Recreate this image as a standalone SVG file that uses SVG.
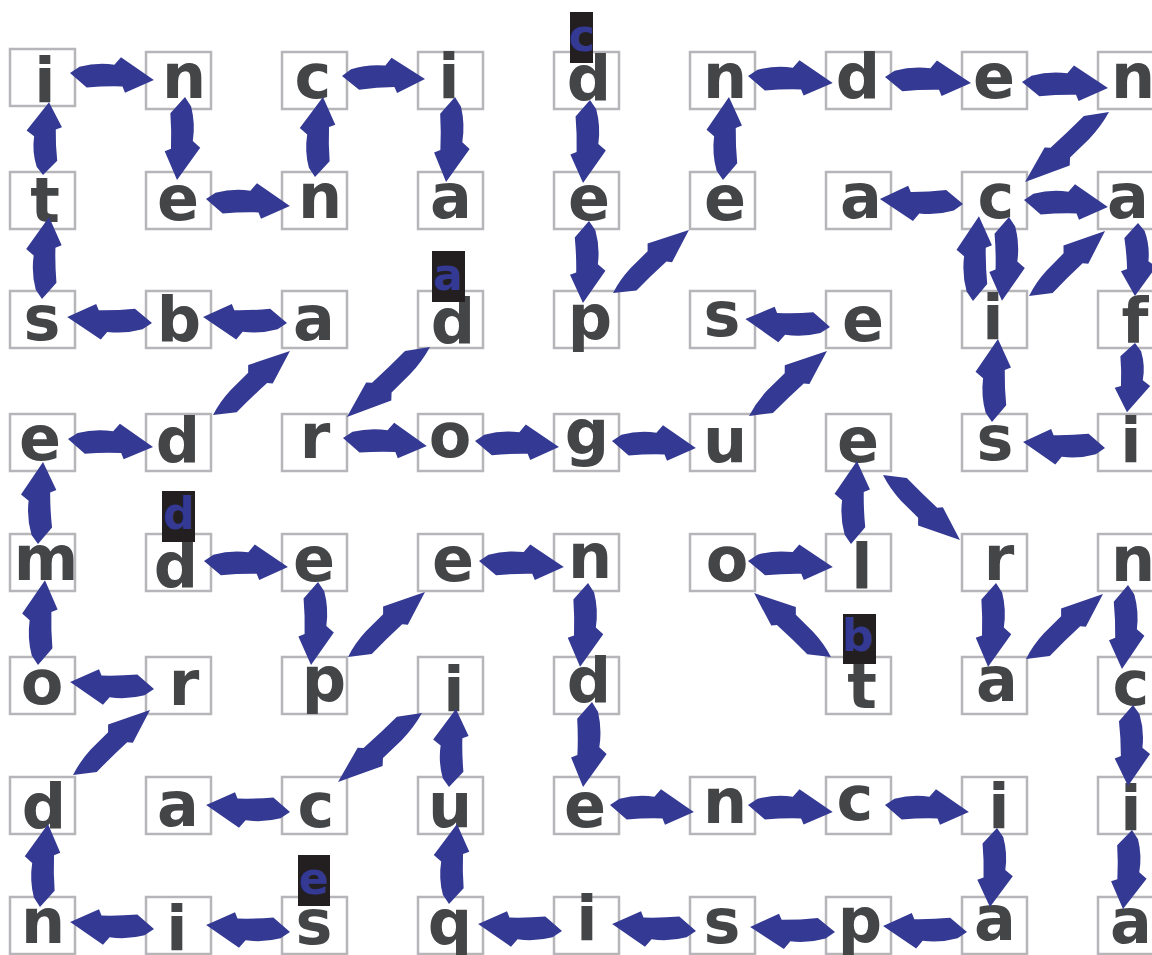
<svg xmlns="http://www.w3.org/2000/svg" xmlns:xlink="http://www.w3.org/1999/xlink" width="1152" height="955" viewBox="0 0 1152 955">
<style>
.box{fill:#fff;stroke:#b6b6ba;stroke-width:2.5}
.l{font-family:"DejaVu Sans","Liberation Sans",sans-serif;font-weight:700;font-size:62px;fill:#444547;text-anchor:middle}
.hl{fill:#231f20}
.hlt{font-family:"DejaVu Sans","Liberation Sans",sans-serif;font-weight:700;font-size:44px;fill:#343994;text-anchor:middle}
.arr use{fill:#343994}
</style>
<defs>
<path id="ah" d="M0,0 L9,-7 Q26,-13 44,-12 L50,-20 L85,0 L57,15 L54,9 Q36,10 18,13 Z"/>
<path id="ad" d="M0,0 Q14,-6 30,-8 L54,-10 L59,-16 L100,0 L66,14 L62,10 Q40,11 20,13 Z"/>
</defs>
<rect width="1152" height="955" fill="#fff"/>
<!-- row 1 -->
<g id="r1c1"><rect class="box" x="10" y="49" width="65" height="57"/><text class="l" x="45" y="102">i</text></g>
<g id="r1c2"><rect class="box" x="146" y="52" width="65" height="57"/><text class="l" x="184" y="98">n</text></g>
<g id="r1c3"><rect class="box" x="282" y="52" width="65" height="57"/><text class="l" x="313" y="98">c</text></g>
<g id="r1c4"><rect class="box" x="418" y="52" width="65" height="57"/><text class="l" x="449" y="98">i</text></g>
<g id="r1c5"><rect class="box" x="554" y="52" width="65" height="57"/><text class="l" x="589" y="100">d</text><rect class="hl" x="570" y="12" width="23" height="51"/><text class="hlt" x="582" y="51" font-size="38">c</text></g>
<g id="r1c6"><rect class="box" x="690" y="52" width="65" height="57"/><text class="l" x="725" y="98">n</text></g>
<g id="r1c7"><rect class="box" x="826" y="52" width="65" height="57"/><text class="l" x="858" y="98">d</text></g>
<g id="r1c8"><rect class="box" x="962" y="52" width="65" height="57"/><text class="l" x="994" y="98">e</text></g>
<g id="r1c9"><rect class="box" x="1098" y="52" width="65" height="57"/><text class="l" x="1133" y="98">n</text></g>
<!-- row 2 -->
<g id="r2c1"><rect class="box" x="10" y="172" width="65" height="57"/><text class="l" x="45" y="222">t</text></g>
<g id="r2c2"><rect class="box" x="146" y="172" width="65" height="57"/><text class="l" x="178" y="220">e</text></g>
<g id="r2c3"><rect class="box" x="282" y="172" width="65" height="57"/><text class="l" x="320" y="218">n</text></g>
<g id="r2c4"><rect class="box" x="418" y="172" width="65" height="57"/><text class="l" x="451" y="218">a</text></g>
<g id="r2c5"><rect class="box" x="554" y="172" width="65" height="57"/><text class="l" x="589" y="220">e</text></g>
<g id="r2c6"><rect class="box" x="690" y="172" width="65" height="57"/><text class="l" x="725" y="220">e</text></g>
<g id="r2c7"><rect class="box" x="826" y="172" width="65" height="57"/><text class="l" x="861" y="218">a</text></g>
<g id="r2c8"><rect class="box" x="962" y="172" width="65" height="57"/><text class="l" x="996" y="218">c</text></g>
<g id="r2c9"><rect class="box" x="1098" y="172" width="65" height="57"/><text class="l" x="1128" y="218">a</text></g>
<!-- row 3 -->
<g id="r3c1"><rect class="box" x="10" y="291" width="65" height="57"/><text class="l" x="42" y="340">s</text></g>
<g id="r3c2"><rect class="box" x="146" y="291" width="65" height="57"/><text class="l" x="179" y="341">b</text></g>
<g id="r3c3"><rect class="box" x="282" y="291" width="65" height="57"/><text class="l" x="314" y="340">a</text></g>
<g id="r3c4"><rect class="box" x="418" y="291" width="65" height="57"/><text class="l" x="453" y="343">d</text><rect class="hl" x="432" y="251" width="33" height="51"/><text class="hlt" x="448" y="290">a</text></g>
<g id="r3c5"><rect class="box" x="554" y="291" width="65" height="57"/><text class="l" x="590" y="339">p</text></g>
<g id="r3c6"><rect class="box" x="690" y="291" width="65" height="57"/><text class="l" x="722" y="336">s</text></g>
<g id="r3c7"><rect class="box" x="826" y="291" width="65" height="57"/><text class="l" x="863" y="341" font-size="58">e</text></g>
<g id="r3c8"><rect class="box" x="962" y="291" width="65" height="57"/><text class="l" x="993" y="339">i</text></g>
<g id="r3c9"><rect class="box" x="1098" y="291" width="65" height="57"/><text class="l" x="1135" y="342">f</text></g>
<!-- row 4 -->
<g id="r4c1"><rect class="box" x="10" y="414" width="65" height="57"/><text class="l" x="40" y="460">e</text></g>
<g id="r4c2"><rect class="box" x="146" y="414" width="65" height="57"/><text class="l" x="178" y="462">d</text></g>
<g id="r4c3"><rect class="box" x="282" y="414" width="65" height="57"/><text class="l" x="315" y="458">r</text></g>
<g id="r4c4"><rect class="box" x="418" y="414" width="65" height="57"/><text class="l" x="450" y="457" font-size="54">o</text></g>
<g id="r4c5"><rect class="box" x="554" y="414" width="65" height="57"/><text class="l" x="587" y="454">g</text></g>
<g id="r4c6"><rect class="box" x="690" y="414" width="65" height="57"/><text class="l" x="725" y="462">u</text></g>
<g id="r4c7"><rect class="box" x="826" y="414" width="65" height="57"/><text class="l" x="858" y="462">e</text></g>
<g id="r4c8"><rect class="box" x="962" y="414" width="65" height="57"/><text class="l" x="995" y="460">s</text></g>
<g id="r4c9"><rect class="box" x="1098" y="414" width="65" height="57"/><text class="l" x="1131" y="462">i</text></g>
<!-- row 5 -->
<g id="r5c1"><rect class="box" x="10" y="534" width="65" height="57"/><text class="l" x="46" y="580">m</text></g>
<g id="r5c2"><rect class="box" x="146" y="534" width="65" height="57"/><text class="l" x="176" y="587">d</text><rect class="hl" x="162" y="491" width="33" height="51"/><text class="hlt" x="179" y="529">d</text></g>
<g id="r5c3"><rect class="box" x="282" y="534" width="65" height="57"/><text class="l" x="314" y="581">e</text></g>
<g id="r5c4"><rect class="box" x="418" y="534" width="65" height="57"/><text class="l" x="453" y="581">e</text></g>
<g id="r5c5"><rect class="box" x="554" y="534" width="65" height="57"/><text class="l" x="590" y="578">n</text></g>
<g id="r5c6"><rect class="box" x="690" y="534" width="65" height="57"/><text class="l" x="727" y="581">o</text></g>
<g id="r5c7"><rect class="box" x="826" y="534" width="65" height="57"/><text class="l" x="862" y="588">l</text></g>
<g id="r5c8"><rect class="box" x="962" y="534" width="65" height="57"/><text class="l" x="999" y="580">r</text></g>
<g id="r5c9"><rect class="box" x="1098" y="534" width="65" height="57"/><text class="l" x="1133" y="581">n</text></g>
<!-- row 6 -->
<g id="r6c1"><rect class="box" x="10" y="657" width="65" height="57"/><text class="l" x="42" y="704">o</text></g>
<g id="r6c2"><rect class="box" x="146" y="657" width="65" height="57"/><text class="l" x="184" y="705">r</text></g>
<g id="r6c3"><rect class="box" x="282" y="657" width="65" height="57"/><text class="l" x="324" y="701">p</text></g>
<g id="r6c4"><rect class="box" x="418" y="657" width="65" height="57"/><text class="l" x="454" y="711">i</text></g>
<g id="r6c5"><rect class="box" x="554" y="657" width="65" height="57"/><text class="l" x="589" y="702">d</text></g>
<g id="r6c7"><rect class="box" x="826" y="657" width="65" height="57"/><text class="l" x="862" y="708">t</text><rect class="hl" x="843" y="614" width="33" height="50"/><text class="hlt" x="858" y="651">b</text></g>
<g id="r6c8"><rect class="box" x="962" y="657" width="65" height="57"/><text class="l" x="997" y="701">a</text></g>
<g id="r6c9"><rect class="box" x="1098" y="657" width="65" height="57"/><text class="l" x="1131" y="705">c</text></g>
<!-- row 7 -->
<g id="r7c1"><rect class="box" x="10" y="777" width="65" height="57"/><text class="l" x="44" y="828">d</text></g>
<g id="r7c2"><rect class="box" x="146" y="777" width="65" height="57"/><text class="l" x="178" y="826">a</text></g>
<g id="r7c3"><rect class="box" x="282" y="777" width="65" height="57"/><text class="l" x="316" y="827">c</text></g>
<g id="r7c4"><rect class="box" x="418" y="777" width="65" height="57"/><text class="l" x="450" y="827">u</text></g>
<g id="r7c5"><rect class="box" x="554" y="777" width="65" height="57"/><text class="l" x="585" y="827">e</text></g>
<g id="r7c6"><rect class="box" x="690" y="777" width="65" height="57"/><text class="l" x="725" y="823">n</text></g>
<g id="r7c7"><rect class="box" x="826" y="777" width="65" height="57"/><text class="l" x="855" y="820">c</text></g>
<g id="r7c8"><rect class="box" x="962" y="777" width="65" height="57"/><text class="l" x="999" y="828">i</text></g>
<g id="r7c9"><rect class="box" x="1098" y="777" width="65" height="57"/><text class="l" x="1131" y="830">i</text></g>
<!-- row 8 -->
<g id="r8c1"><rect class="box" x="10" y="897" width="65" height="57"/><text class="l" x="43" y="943">n</text></g>
<g id="r8c2"><rect class="box" x="146" y="897" width="65" height="57"/><text class="l" x="177" y="950">i</text></g>
<g id="r8c3"><rect class="box" x="282" y="897" width="65" height="57"/><text class="l" x="314" y="944">s</text><rect class="hl" x="298" y="855" width="32" height="51"/><text class="hlt" x="314" y="894">e</text></g>
<g id="r8c4"><rect class="box" x="418" y="897" width="65" height="57"/><text class="l" x="450" y="944">q</text></g>
<g id="r8c5"><rect class="box" x="554" y="897" width="65" height="57"/><text class="l" x="587" y="940">i</text></g>
<g id="r8c6"><rect class="box" x="690" y="897" width="65" height="57"/><text class="l" x="722" y="943">s</text></g>
<g id="r8c7"><rect class="box" x="826" y="897" width="65" height="57"/><text class="l" x="860" y="942">p</text></g>
<g id="r8c8"><rect class="box" x="962" y="897" width="65" height="57"/><text class="l" x="995" y="940">a</text></g>
<g id="r8c9"><rect class="box" x="1098" y="897" width="65" height="57"/><text class="l" x="1131" y="943">a</text></g>
<!-- connectors -->
<g id="connectors" class="arr">
<use href="#ah" transform="translate(70,73) rotate(4.76) scale(0.99,1)"/>
<use href="#ah" transform="translate(185,97) rotate(95.5) scale(0.98,1)"/>
<use href="#ah" transform="translate(206,199) rotate(4.76) scale(0.99,1)"/>
<use href="#ah" transform="translate(315,177) rotate(-84.3) scale(0.946,1)"/>
<use href="#ah" transform="translate(342,76) rotate(2.07) scale(0.977,1)"/>
<use href="#ah" transform="translate(455,97) rotate(96) scale(1.006,1)"/>
<use href="#ah" transform="translate(590,100) rotate(94.8) scale(0.98,1)"/>
<use href="#ah" transform="translate(723,180) rotate(-85.9) scale(0.979,1)"/>
<use href="#ah" transform="translate(748,76) rotate(4.7)"/>
<use href="#ah" transform="translate(885,77) rotate(4) scale(1.014,1)"/>
<use href="#ah" transform="translate(1022,82) rotate(4) scale(1.014,1)"/>
<use href="#ad" transform="translate(1109,112) rotate(140.2) scale(1.093,1)"/>
<use href="#ah" transform="translate(963,204) rotate(183.4) scale(0.979,1)"/>
<use href="#ah" transform="translate(1024,200) rotate(4.76) scale(0.99,1)"/>
<use href="#ah" transform="translate(973,301) rotate(-86)"/>
<use href="#ah" transform="translate(1009,217) rotate(94.8) scale(0.99,1)"/>
<use href="#ad" transform="translate(1029,296) rotate(-40.5)"/>
<use href="#ah" transform="translate(1138,223) rotate(92.4) scale(0.86,1)"/>
<use href="#ah" transform="translate(1135,343) rotate(96.6) scale(0.82,1)"/>
<use href="#ah" transform="translate(1105,448) rotate(184.2) scale(0.967,1)"/>
<use href="#ah" transform="translate(992,422) rotate(-85.9) scale(0.979,1)"/>
<use href="#ad" transform="translate(613,293) rotate(-39.7) scale(0.987,1)"/>
<use href="#ah" transform="translate(589,221) rotate(94.2) scale(0.967,1)"/>
<use href="#ah" transform="translate(287,323) rotate(184.1) scale(0.99,1)"/>
<use href="#ah" transform="translate(152,323) rotate(184)"/>
<use href="#ah" transform="translate(42,299) rotate(-85.1) scale(0.968,1)"/>
<use href="#ah" transform="translate(43,175) rotate(-85.3) scale(0.86,1)"/>
<use href="#ad" transform="translate(213,415) rotate(-39.7)"/>
<use href="#ah" transform="translate(68,439) rotate(5.4) scale(1.005,1)"/>
<use href="#ah" transform="translate(38,544) rotate(-86.5) scale(0.967,1)"/>
<use href="#ah" transform="translate(38,665) rotate(-85.3)"/>
<use href="#ah" transform="translate(154,689) rotate(184.8) scale(0.99,1)"/>
<use href="#ad" transform="translate(73,775) rotate(-40.2) scale(1.008,1)"/>
<use href="#ah" transform="translate(40,907) rotate(-84.5) scale(0.98,1)"/>
<use href="#ah" transform="translate(154,929) rotate(184.8) scale(0.99,1)"/>
<use href="#ah" transform="translate(290,932) rotate(184.8) scale(0.99,1)"/>
<use href="#ah" transform="translate(290,812) rotate(184.8) scale(0.99,1)"/>
<use href="#ah" transform="translate(204,561) rotate(4.1) scale(0.99,1)"/>
<use href="#ah" transform="translate(318,582) rotate(94.8) scale(0.98,1)"/>
<use href="#ad" transform="translate(348,657) rotate(-40.2) scale(1.008,1)"/>
<use href="#ah" transform="translate(479,561) rotate(4)"/>
<use href="#ah" transform="translate(588,583) rotate(95.4) scale(0.99,1)"/>
<use href="#ah" transform="translate(592,702) rotate(96) scale(1.006,1)"/>
<use href="#ah" transform="translate(610,805) rotate(4.76) scale(0.99,1)"/>
<use href="#ah" transform="translate(748,805) rotate(4.7)"/>
<use href="#ah" transform="translate(885,805) rotate(4.76) scale(0.99,1)"/>
<use href="#ah" transform="translate(997,828) rotate(95.1) scale(0.933,1)"/>
<use href="#ah" transform="translate(967,932) rotate(184.1) scale(0.99,1)"/>
<use href="#ah" transform="translate(835,932) rotate(183.4)"/>
<use href="#ah" transform="translate(696,931) rotate(184.8) scale(0.99,1)"/>
<use href="#ah" transform="translate(562,931) rotate(184.8) scale(0.99,1)"/>
<use href="#ah" transform="translate(449,904) rotate(-84.3) scale(0.946,1)"/>
<use href="#ah" transform="translate(449,787) rotate(-84.9) scale(0.92,1)"/>
<use href="#ad" transform="translate(422,713) rotate(140.6) scale(1.087,1)"/>
<use href="#ad" transform="translate(430,347) rotate(139.9) scale(1.086,1)"/>
<use href="#ah" transform="translate(343,438) rotate(5.4) scale(0.99,1)"/>
<use href="#ah" transform="translate(475,441) rotate(4.1) scale(0.99,1)"/>
<use href="#ah" transform="translate(612,441) rotate(4.76) scale(0.99,1)"/>
<use href="#ad" transform="translate(749,416) rotate(-39.8) scale(1.015,1)"/>
<use href="#ah" transform="translate(830,327) rotate(185.4)"/>
<use href="#ah" transform="translate(748,561) rotate(4)"/>
<use href="#ah" transform="translate(851,544) rotate(-85.9) scale(0.979,1)"/>
<use href="#ad" transform="translate(883,475) rotate(40.2) scale(1.008,-1)"/>
<use href="#ad" transform="translate(831,657) rotate(219.7) scale(1,-1)"/>
<use href="#ah" transform="translate(996,583) rotate(95.4) scale(0.99,1)"/>
<use href="#ad" transform="translate(1026,659) rotate(-40.2) scale(1.008,1)"/>
<use href="#ah" transform="translate(1128,585) rotate(94.1) scale(0.99,1)"/>
<use href="#ah" transform="translate(1133,705) rotate(93.5) scale(0.955,1)"/>
<use href="#ah" transform="translate(1132,830) rotate(96.5) scale(0.935,1)"/>
</g>
</svg>
